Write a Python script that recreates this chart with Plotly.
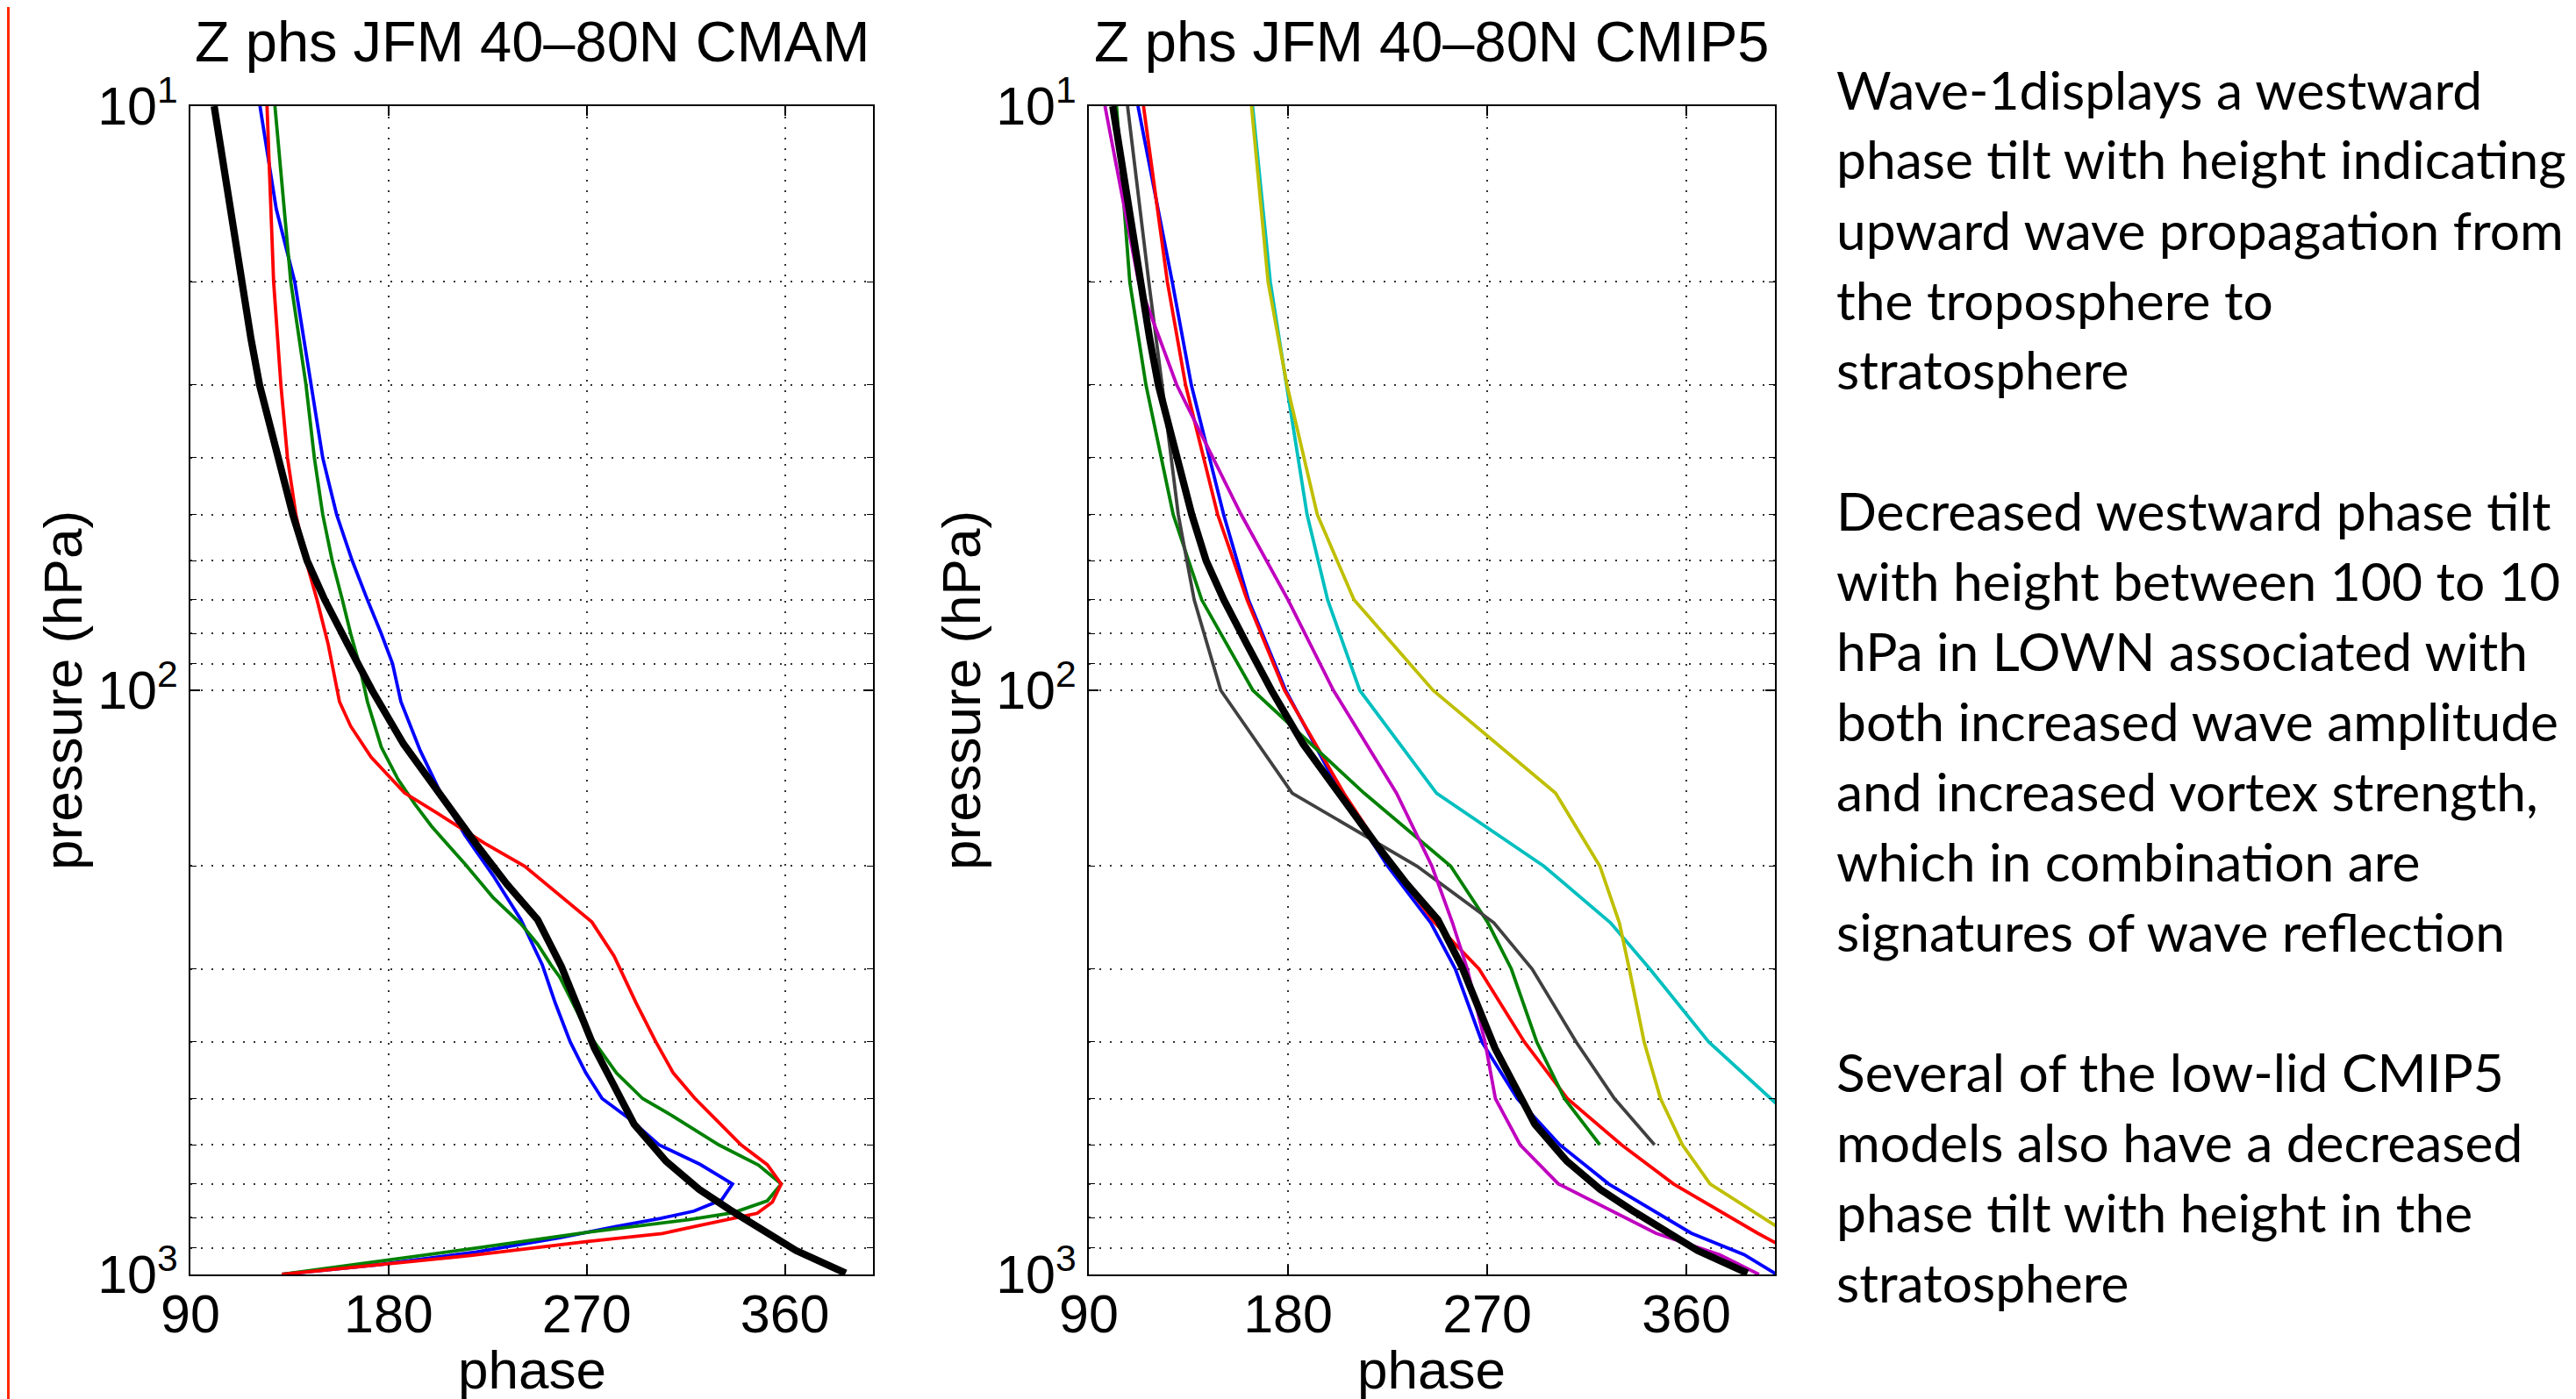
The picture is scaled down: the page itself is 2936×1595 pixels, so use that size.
import plotly.graph_objects as go

# the page body adds an 8 px margin around the figure, so the figure is
# built 8 px smaller and every pixel position below is shifted by -8
OFF = 8
W, H = 2936 - OFF, 1595 - OFF

# ---------------- data ----------------
# reference (thick black) phase profile, shared by both panels
OBS_P = [10, 12, 14, 17, 20, 25, 30, 38.4, 50, 60, 70, 83.5, 100, 123.6, 158, 183.4,
         214.7, 247, 297, 357, 410, 472, 553, 640, 715, 775, 820, 910, 995]
OBS_PHASE = [100.8, 104, 107.0, 110, 113.5, 117.5, 121.4, 128.5, 136.5, 143, 151, 161.5,
             172.5, 186.8, 207.1, 219.8, 233.7, 247.7, 258.5, 266.7, 273.5, 282, 291.5,
             306, 321, 335, 346, 365, 387.6]

# CMAM runs (left panel)
CMAM_BLUE_P = [10, 15, 20, 30, 40, 50, 60, 70, 80, 90, 104.6, 126.9, 152.5, 177, 207.3,
               247, 284, 295, 343, 400, 452, 500, 540, 600, 648, 700, 745, 779, 802, 828,
               865, 915, 961, 1000]
CMAM_BLUE_PHASE = [121.6, 129, 137.4, 145.0, 150.1, 156.4, 163.5, 170.4, 176.7, 181.8,
                   185.6, 194.4, 204.6, 214.7, 227.4, 240.1, 247.7, 249.8, 255.7, 262.5,
                   269.6, 277.0, 289, 302.8, 321.5, 336.2, 331.3, 318.7, 303.4, 283.2,
                   257.8, 219.8, 176.7, 131.5]

CMAM_GREEN_P = [10, 20, 30, 40, 50, 60, 70, 80, 90, 104.6, 125.1, 142.1, 156.5, 170.9,
                198.3, 226.2, 251.2, 272, 295, 310, 386, 452, 500, 534, 600, 650, 700,
                748, 784, 806, 847, 901, 1000]
CMAM_GREEN_PHASE = [128.4, 135.6, 142.5, 146.3, 150.1, 154.4, 159.0, 162.8, 166.6, 170.4,
                    176.7, 184.3, 191.9, 199.5, 214.7, 227.4, 240.1, 247.7, 253.7, 257.8,
                    270.5, 283.5, 295.4, 308.5, 330, 348, 358.3, 352, 336.5, 316.1, 270.5,
                    219.8, 131.5]

CMAM_RED_P = [10, 20, 30, 40, 50, 60, 70, 83.5, 104.6, 115.2, 130.2, 149.9, 162.2, 182.7,
              200, 249.2, 285, 342.8, 400, 452, 500, 600, 649, 700, 752, 786, 823, 851,
              879, 928, 1000]
CMAM_RED_PHASE = [124.8, 127.8, 131.1, 134.1, 137.9, 142.5, 147.5, 152.6, 157.7, 162.8,
                  172.1, 187.3, 202, 223.6, 241.8, 272.3, 282.4, 292.4, 301.4, 309.3,
                  319.2, 340.1, 352.0, 358.3, 354.3, 347.4, 322.2, 304.3, 269.6, 217.3,
                  131.5]

# CMIP5 models (right panel) on standard pressure levels
PLEV = [10, 20, 30, 50, 70, 100, 150, 200, 250, 300, 400, 500, 600, 700, 850, 925, 1000]
CMIP_BLUE = [112.2, 127.7, 136.3, 150.9, 162.1, 178.9, 203.8, 225.0, 244.5, 255.6, 267.6,
             283.6, 302.8, 324.9, 362.2, 386.1, 400.8]
CMIP_RED = [114.7, 125.5, 133.7, 148.2, 161.5, 178.4, 205.2, 227.0, 246.3, 266.3, 286.8,
            306.2, 330.7, 354.2, 392.2, 410.0, 423.0]
CMIP_GREEN = [102.5, 108.5, 115.8, 128.1, 141.0, 164.1, 214.4, 253.5, 270.3, 280.9, 292.4,
              304.9, 320.9]
CMIP_GREY = [107.5, 117.1, 123.1, 130.4, 137.6, 149.6, 181.9, 238.3, 273.0, 290.3, 310.2,
             327.5, 345.6]
CMIP_MAGENTA = [97.3, 112.5, 129.7, 158.8, 180.0, 200.5, 229.0, 245.0, 254.3, 261.0, 269.0,
                273.7, 284.9, 302.2, 346.2, 375.0, 392.8]
CMIP_CYAN = [164.0, 172.0, 179.3, 188.6, 197.9, 212.4, 247.1, 295.6, 325.7, 343.5, 370.1,
             398.1, 421.0]
CMIP_YELLOW = [163.5, 171.0, 179.5, 193.2, 209.8, 245.5, 300.9, 320.9, 329.7, 334.2, 340.9,
               348.3, 358.2, 370.7, 405.6, 418.0]

X_TICKS = [90, 180, 270, 360]
Y_TICKS = [10, 100, 1000]
Y_TICK_TEXT = ["10<sup>1</sup>", "10<sup>2</sup>", "10<sup>3</sup>"]
Y_MINOR = [20, 30, 40, 50, 60, 70, 80, 90, 200, 300, 400, 500, 600, 700, 800, 900]

TITLES = ["Z phs JFM 40\u201380N CMAM", "Z phs JFM 40\u201380N CMIP5"]
XLABEL = "phase"
YLABEL = "pressure (hPa)"

TEXT_LINES = [
    "Wave-1displays a westward",
    "phase tilt with height indicating",
    "upward wave propagation from",
    "the troposphere to",
    "stratosphere",
    "",
    "Decreased westward phase tilt",
    "with height between 100 to 10",
    "hPa in LOWN associated with",
    "both increased wave amplitude",
    "and increased vortex strength,",
    "which in combination are",
    "signatures of wave reflection",
    "",
    "Several of the low-lid CMIP5",
    "models also have a decreased",
    "phase tilt with height in the",
    "stratosphere",
]

# ---------------- layout geometry (page pixels) ----------------
PX_L = (217, 995)
PX_R = (1241, 2023)
PX_TOP, PX_BOT = 121, 1453


def px_x(x):
    return (x - OFF) / W


def px_y(y):
    return 1 - (y - OFF) / H


fig = go.Figure()

BLUE = "rgb(0,0,255)"
RED = "rgb(255,0,0)"
GREEN = "rgb(0,128,0)"
GREY = "rgb(64,64,64)"
MAGENTA = "rgb(191,0,191)"
CYAN = "rgb(0,191,191)"
YELLOW = "rgb(191,191,0)"
LW = 3.8
BW = 8.2


def add(x, y, color, width, axis):
    fig.add_trace(go.Scatter(x=x, y=y, mode="lines",
                             line=dict(color=color, width=width),
                             xaxis="x" if axis == 1 else "x2",
                             yaxis="y" if axis == 1 else "y2",
                             showlegend=False, hoverinfo="skip"))


# left panel
add(CMAM_BLUE_PHASE, CMAM_BLUE_P, BLUE, LW, 1)
add(CMAM_GREEN_PHASE, CMAM_GREEN_P, GREEN, LW, 1)
add(CMAM_RED_PHASE, CMAM_RED_P, RED, LW, 1)
add(OBS_PHASE, OBS_P, "black", BW, 1)

# right panel
add(CMIP_BLUE, PLEV[:len(CMIP_BLUE)], BLUE, LW, 2)
add(CMIP_RED, PLEV[:len(CMIP_RED)], RED, LW, 2)
add(CMIP_GREEN, PLEV[:len(CMIP_GREEN)], GREEN, LW, 2)
add(CMIP_GREY, PLEV[:len(CMIP_GREY)], GREY, LW, 2)
add(CMIP_MAGENTA, PLEV[:len(CMIP_MAGENTA)], MAGENTA, LW, 2)
add(CMIP_CYAN, PLEV[:len(CMIP_CYAN)], CYAN, LW, 2)
add(CMIP_YELLOW, PLEV[:len(CMIP_YELLOW)], YELLOW, LW, 2)
add(OBS_PHASE, OBS_P, "black", BW, 2)

AX_FONT = dict(family="Liberation Sans, Arial, sans-serif", size=61, color="black")
GRID = dict(showgrid=True, gridcolor="#333333", gridwidth=1.5, griddash="2px,10px")


def xaxis(dom, anchor):
    return dict(domain=dom, anchor=anchor, range=[90, 400], tickvals=X_TICKS,
                ticks="inside", ticklen=11, tickwidth=1.5, tickcolor="black",
                showline=True, linecolor="black", linewidth=2, mirror="ticks",
                zeroline=False, tickfont=AX_FONT, ticklabelstandoff=-9,
                automargin=False, **GRID)


def yaxis(anchor):
    return dict(domain=[px_y(PX_BOT), px_y(PX_TOP)], anchor=anchor, type="log",
                range=[3, 1], tickvals=Y_TICKS, ticktext=Y_TICK_TEXT,
                ticks="inside", ticklen=11, tickwidth=1.5, tickcolor="black",
                showline=True, linecolor="black", linewidth=2, mirror="ticks",
                zeroline=False, tickfont=AX_FONT, ticklabelstandoff=0,
                automargin=False,
                minor=dict(tickvals=Y_MINOR, ticks="inside", ticklen=7,
                           tickcolor="black", tickwidth=1.3, showgrid=True,
                           gridcolor="#333333", gridwidth=1.5, griddash="2px,10px"),
                **GRID)


fig.update_layout(
    width=W, height=H, autosize=False,
    margin=dict(l=0, r=0, t=0, b=0, pad=0, autoexpand=False),
    paper_bgcolor="white", plot_bgcolor="white",
    xaxis=xaxis([px_x(PX_L[0]), px_x(PX_L[1])], "y"),
    yaxis=yaxis("x"),
    xaxis2=xaxis([px_x(PX_R[0]), px_x(PX_R[1])], "y2"),
    yaxis2=yaxis("x2"),
)

ann = []
TFONT = dict(family="Liberation Sans, Arial, sans-serif", size=65, color="black")
LFONT = dict(family="Liberation Sans, Arial, sans-serif", size=62, color="black")
for (l, r), title, ylx in [(PX_L, TITLES[0], 72), (PX_R, TITLES[1], 1096)]:
    cx = (l + r) / 2
    ann.append(dict(x=px_x(cx), y=px_y(47), xref="paper", yref="paper", text=title,
                    showarrow=False, xanchor="center", yanchor="middle", font=TFONT))
    ann.append(dict(x=px_x(cx), y=px_y(1561), xref="paper", yref="paper", text=XLABEL,
                    showarrow=False, xanchor="center", yanchor="middle", font=LFONT))
    ann.append(dict(x=px_x(ylx), y=px_y((PX_TOP + PX_BOT) / 2), xref="paper",
                    yref="paper", text=YLABEL, textangle=-90, showarrow=False,
                    xanchor="center", yanchor="middle", font=LFONT))

BFONT = dict(family="Lato, 'Open Sans', sans-serif", size=60.5, color="black")
for k, line in enumerate(TEXT_LINES):
    if not line:
        continue
    ann.append(dict(x=px_x(2091), y=px_y(101 + 80 * k), xref="paper", yref="paper",
                    text=line, showarrow=False, xanchor="left", yanchor="middle",
                    font=BFONT))

fig.update_layout(annotations=ann)

# thin red border line at the left edge of the slide
fig.add_shape(type="line", xref="paper", yref="paper", x0=px_x(OFF + 1.5),
              x1=px_x(OFF + 1.5), y0=0, y1=1,
              line=dict(color="rgb(255,40,0)", width=3))

fig.write_html("out.html", config={"responsive": False})
